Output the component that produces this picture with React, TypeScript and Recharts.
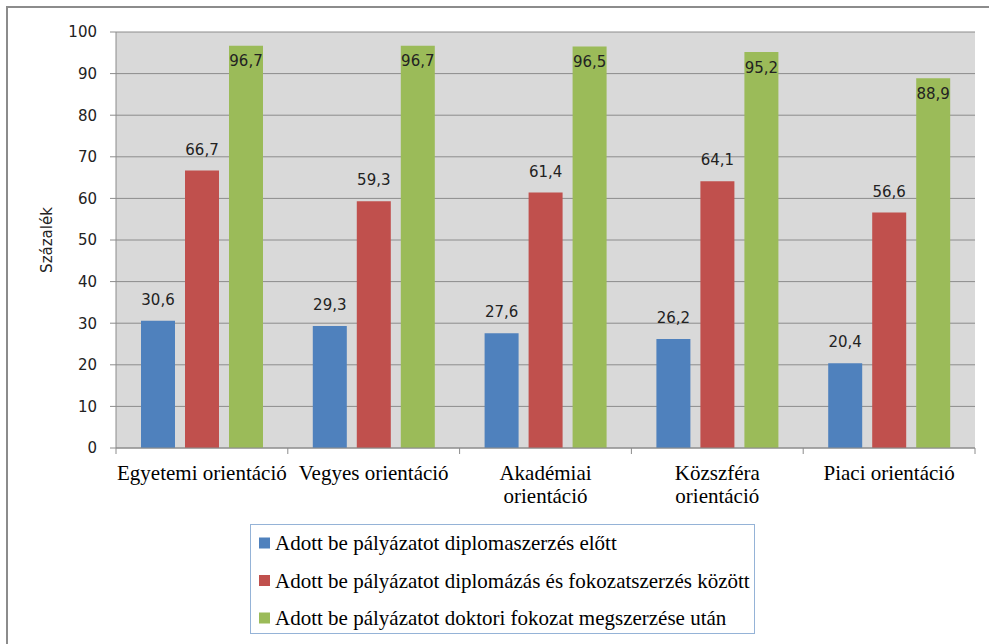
import { BarChart, Bar, XAxis, YAxis, CartesianGrid, Legend, LabelList } from 'recharts'

const categories = ['Egyetemi orientáció', 'Vegyes orientáció', 'Akadémiai orientáció', 'Közszféra orientáció', 'Piaci orientáció']
// how each category label breaks on the axis
const categoryLines = [
  ['Egyetemi orientáció'],
  ['Vegyes orientáció'],
  ['Akadémiai', 'orientáció'],
  ['Közszféra', 'orientáció'],
  ['Piaci orientáció'],
]
const beforeDiploma = [30.6, 29.3, 27.6, 26.2, 20.4]
const betweenDegrees = [66.7, 59.3, 61.4, 64.1, 56.6]
const afterDoctorate = [96.7, 96.7, 96.5, 95.2, 88.9]
const seriesNames = [
  'Adott be pályázatot diplomaszerzés előtt',
  'Adott be pályázatot diplomázás és fokozatszerzés között',
  'Adott be pályázatot doktori fokozat megszerzése után',
]
const yTicks = [0, 10, 20, 30, 40, 50, 60, 70, 80, 90, 100]

const data = categories.map((name, i) => ({
  name,
  before: beforeDiploma[i],
  between: betweenDegrees[i],
  after: afterDoctorate[i],
}))

const SERIF = 'Liberation Serif, DejaVu Serif, serif'
const SANS = 'DejaVu Sans, sans-serif'
const GRID = '#8c8c8c'
const fmt = (v: number) => v.toFixed(1).replace('.', ',')

// category label plus the small tick marks on the category boundaries
function CategoryTick({ x, y, index, width, visibleTicksCount }: any) {
  const half = width / visibleTicksCount / 2
  const lines = categoryLines[index] || [categories[index]]
  return (
    <g>
      <line x1={x - half} x2={x - half} y1={y} y2={y + 6} stroke={GRID} />
      {index === visibleTicksCount - 1 && (
        <line x1={x + half} x2={x + half} y1={y} y2={y + 6} stroke={GRID} />
      )}
      <text x={x} y={y + 32} textAnchor="middle" fontFamily={SERIF} fontSize={21} fill="#000">
        {lines.map((l, i) => (
          <tspan key={i} x={x} dy={i === 0 ? 0 : 23}>{l}</tspan>
        ))}
      </text>
    </g>
  )
}

function LegendBox({ payload }: any) {
  return (
    <div style={{ width: 503, height: 108, border: '1px solid #95b3d7', background: '#fff' }}>
      <svg width={503} height={108}>
        {(payload || []).map((p: any, i: number) => (
          <g key={p.value}>
            <rect x={8} y={12.5 + i * 37.5} width={11} height={11} fill={p.color} />
            <text x={24} y={18 + i * 37.5} dominantBaseline="central"
              fontFamily={SERIF} fontSize={21} fill="#000">{p.value}</text>
          </g>
        ))}
      </svg>
    </div>
  )
}

export default function App() {
  return (
    <div style={{ position: 'absolute', left: 0, top: 0, width: 989, height: 644, background: '#fff' }}>
      <div style={{
        position: 'absolute', left: 6, top: 6, right: 0, bottom: 0,
        borderTop: '2px solid #8c8c8c', borderLeft: '2px solid #8c8c8c',
      }} />
      <BarChart width={989} height={644} data={data}
        margin={{ top: 32, right: 14, bottom: 195, left: 0 }}
        barSize={34} barGap={10}>
        <CartesianGrid vertical={false} fill="#d9d9d9" stroke={GRID} />
        <XAxis dataKey="name" height={1} tickLine={false} tickSize={0} tickMargin={0}
          axisLine={{ stroke: GRID }} interval={0} tick={<CategoryTick />} />
        <YAxis domain={[0, 100]} ticks={yTicks} width={116} tickSize={6} tickMargin={13}
          tickLine={{ stroke: GRID }} axisLine={{ stroke: GRID }}
          tick={{ fontFamily: SANS, fontSize: 15, fill: '#222' }}
          label={{
            content: () => (
              <text x={47} y={240} transform="rotate(-90 47 240)" textAnchor="middle"
                dominantBaseline="central" fontFamily={SANS} fontSize={15} fill="#222">
                Százalék
              </text>
            ),
          }} />
        <Legend layout="vertical" verticalAlign="middle" align="center"
          wrapperStyle={{ left: 250, top: 524, width: 505, height: 110 }}
          content={<LegendBox />} />
        <Bar dataKey="before" name={seriesNames[0]} fill="#4f81bd" isAnimationActive={false}>
          <LabelList dataKey="before" position="top" offset={16} formatter={fmt}
            style={{ fontFamily: SANS, fontSize: 15, fill: '#222' }} />
        </Bar>
        <Bar dataKey="between" name={seriesNames[1]} fill="#c0504d" isAnimationActive={false}>
          <LabelList dataKey="between" position="top" offset={16} formatter={fmt}
            style={{ fontFamily: SANS, fontSize: 15, fill: '#222' }} />
        </Bar>
        <Bar dataKey="after" name={seriesNames[2]} fill="#9bbb59" isAnimationActive={false}>
          <LabelList dataKey="after" position="insideTop" offset={10} formatter={fmt}
            style={{ fontFamily: SANS, fontSize: 15, fill: '#222' }} />
        </Bar>
      </BarChart>
    </div>
  )
}
